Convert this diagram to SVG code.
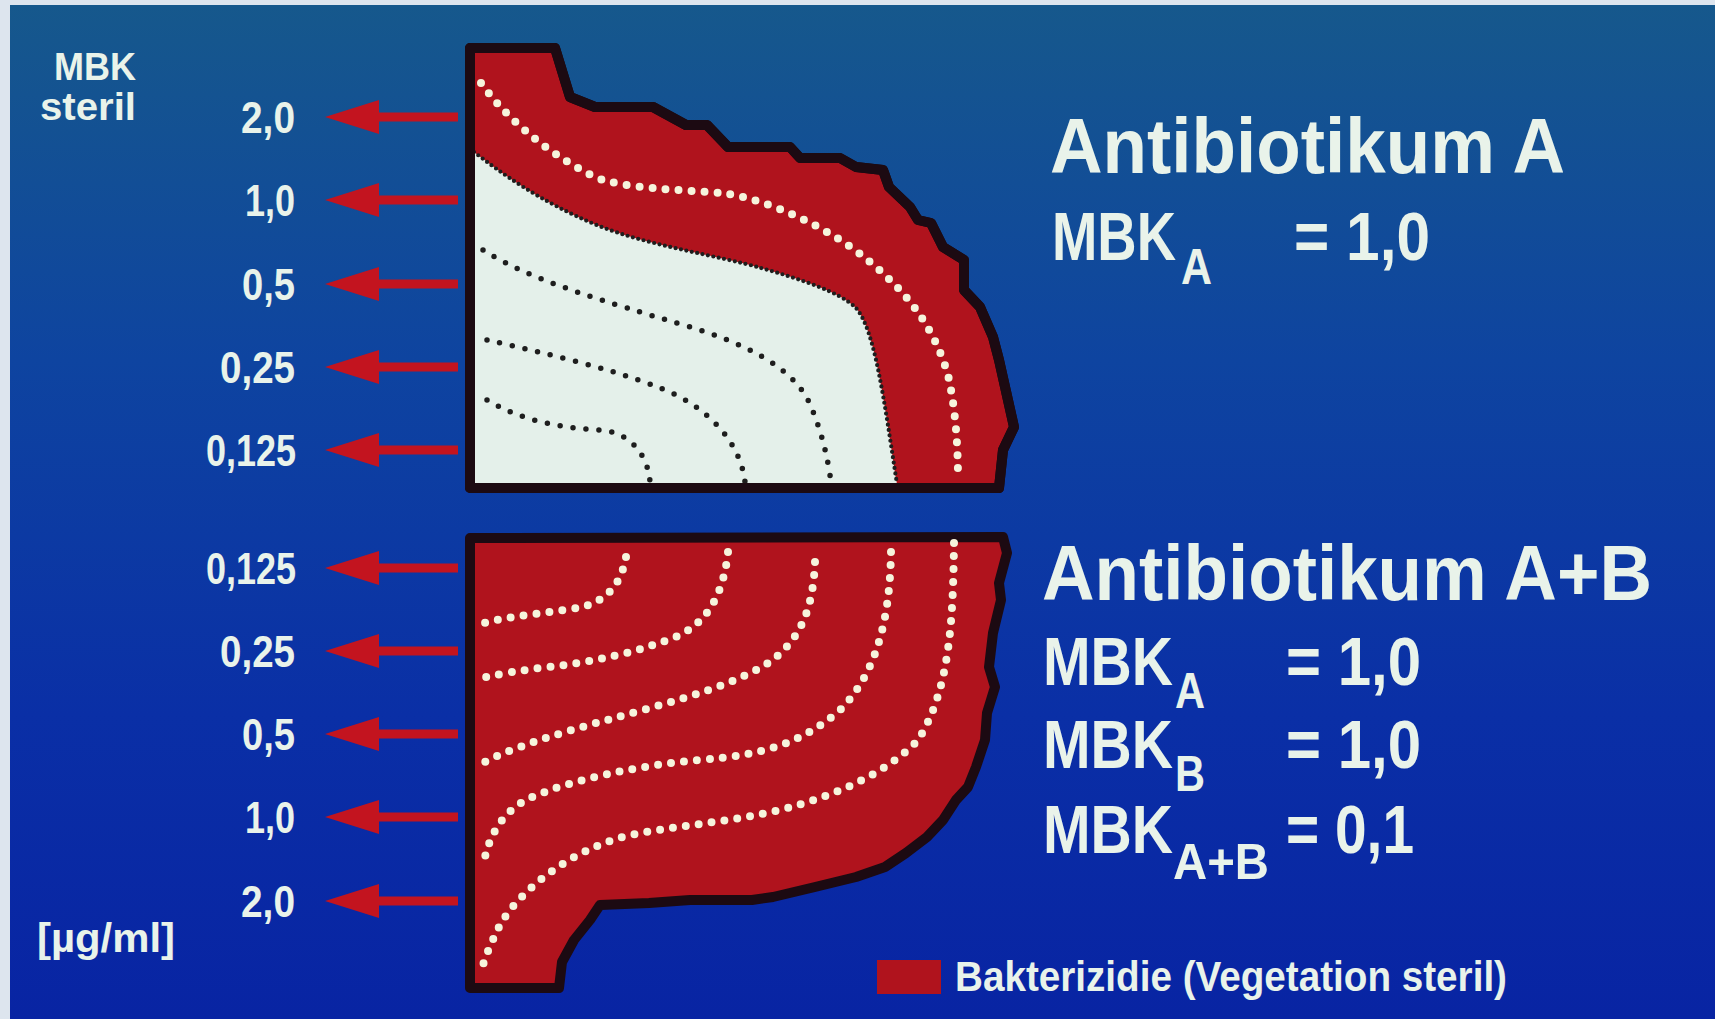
<svg xmlns="http://www.w3.org/2000/svg" xmlns:xlink="http://www.w3.org/1999/xlink" width="1715" height="1019" viewBox="0 0 1715 1019">
<defs>
<linearGradient id="bg" x1="0" y1="0" x2="0" y2="1">
<stop offset="0" stop-color="#16588c"/>
<stop offset="0.35" stop-color="#0e44a0"/>
<stop offset="0.7" stop-color="#0a2fa6"/>
<stop offset="1" stop-color="#0824a3"/>
</linearGradient>
<path id="arrow" d="M325,0 L379,-17 L379,-4.5 L458,-4.5 L458,4.5 L379,4.5 L379,17 Z"/>
<style>
.t{font-family:"Liberation Sans Narrow","Liberation Sans",Arial,sans-serif;font-weight:bold;fill:#e9f3ea}
.lab{font-size:44px}
.big{font-size:77px}
.mbk{font-size:68px}
.sub{font-size:50px}
.shape{fill:#b0131d;stroke:#1c0a12;stroke-width:10;stroke-linejoin:round}
.wdots{fill:none;stroke:#f6f4dc;stroke-width:8;stroke-linecap:round;stroke-dasharray:0 13}
.bdots{fill:none;stroke:#1e1e1e;stroke-width:5.5;stroke-linecap:round;stroke-dasharray:0 13}
.edge{fill:none;stroke:#1e1e1e;stroke-width:4.2;stroke-linecap:round;stroke-dasharray:0 5.5}
.arr{fill:#c3141f}
</style>
</defs>
<rect x="0" y="0" width="1715" height="1019" fill="#dde5ee"/>
<rect x="10" y="5" width="1705" height="1014" fill="url(#bg)"/>

<g id="top-shape">
<path class="shape" d="M470,48 L555,48 L570,97 L595,107 L653,107 L686,125 L707,125 L728,147 L790,147 L800,158 L840,158 L856,167 L883,170 L889,187 L910,207 L918,220 L931,223 L943,247 L964,260 L964,290 L980,307 L993,337 L999,360 L1014,427 L1003,450 L999,488 L470,488 Z"/>
<path fill="#e4f0ea" d="M474,152 C500,172 540,202 599,226 C650,246 720,256 761,268 C800,279 840,292 856,308 C875,330 884,400 897,484 L474,484 Z"/>
<path class="edge" d="M474,152 C500,172 540,202 599,226 C650,246 720,256 761,268 C800,279 840,292 856,308 C875,330 884,400 897,484"/>
<path class="bdots" d="M483,250 C530,280 600,300 690,327 C740,342 790,365 808,400 C822,430 828,460 831,482"/>
<path class="bdots" d="M487,340 C540,352 610,368 660,388 C705,405 740,440 745,482"/>
<path class="bdots" d="M487,400 C520,420 560,428 600,430 C630,432 648,455 650,482"/>
<path class="wdots" d="M481,83 C500,110 540,150 595,177 C620,188 680,190 723,193 C770,200 830,228 870,262 C910,295 935,330 948,375 C956,410 958,450 958,480"/>
<path fill="none" stroke="#1c0a12" stroke-width="10" stroke-linejoin="round" d="M470,48 L555,48 L570,97 L595,107 L653,107 L686,125 L707,125 L728,147 L790,147 L800,158 L840,158 L856,167 L883,170 L889,187 L910,207 L918,220 L931,223 L943,247 L964,260 L964,290 L980,307 L993,337 L999,360 L1014,427 L1003,450 L999,488 L470,488 Z"/>
</g>

<g id="bottom-shape">
<path class="shape" d="M470,538 L1003,537 L1007,553 L999,583 L1001,600 L993,633 L989,667 L995,687 L987,713 L985,740 L976,767 L968,787 L956,800 L943,820 L927,837 L906,853 L885,867 L856,877 L815,887 L773,897 L752,900 L690,900 L649,903 L600,905 L590,920 L574,940 L562,962 L559,988 L470,988 Z"/>
<path class="wdots" d="M626,557 C622,580 610,600 582,607 C560,612 510,615 481,624"/>
<path class="wdots" d="M728,552 C724,590 710,620 680,635 C640,652 590,663 540,668 C510,672 495,675 481,678"/>
<path class="wdots" d="M815,562 C813,610 800,645 760,668 C720,690 660,705 607,720 C560,733 510,748 481,764"/>
<path class="wdots" d="M891,552 C890,610 880,670 840,710 C800,745 760,755 700,760 C640,765 570,780 530,798 C500,812 488,840 484,862"/>
<path class="wdots" d="M954,543 C953,620 950,690 918,740 C890,770 840,795 780,810 C730,822 680,825 630,835 C570,850 520,890 500,925 C490,945 484,960 481,972"/>
</g>

<g id="connectors" class="arr">
<use xlink:href="#arrow" y="117"/>
<use xlink:href="#arrow" y="200"/>
<use xlink:href="#arrow" y="284"/>
<use xlink:href="#arrow" y="367"/>
<use xlink:href="#arrow" y="450"/>
<use xlink:href="#arrow" y="568"/>
<use xlink:href="#arrow" y="651"/>
<use xlink:href="#arrow" y="734"/>
<use xlink:href="#arrow" y="817"/>
<use xlink:href="#arrow" y="901"/>
</g>

<g id="axis-labels" class="t">
<text x="54" y="80" font-size="38" textLength="82" lengthAdjust="spacingAndGlyphs">MBK</text>
<text x="40" y="120" font-size="39" textLength="96" lengthAdjust="spacingAndGlyphs">steril</text>
<text class="lab" x="241" y="133" textLength="54" lengthAdjust="spacingAndGlyphs">2,0</text>
<text class="lab" x="245" y="216" textLength="50" lengthAdjust="spacingAndGlyphs">1,0</text>
<text class="lab" x="242" y="300" textLength="53" lengthAdjust="spacingAndGlyphs">0,5</text>
<text class="lab" x="220" y="383" textLength="75" lengthAdjust="spacingAndGlyphs">0,25</text>
<text class="lab" x="206" y="466" textLength="90" lengthAdjust="spacingAndGlyphs">0,125</text>
<text class="lab" x="206" y="584" textLength="90" lengthAdjust="spacingAndGlyphs">0,125</text>
<text class="lab" x="220" y="667" textLength="75" lengthAdjust="spacingAndGlyphs">0,25</text>
<text class="lab" x="242" y="750" textLength="53" lengthAdjust="spacingAndGlyphs">0,5</text>
<text class="lab" x="245" y="833" textLength="50" lengthAdjust="spacingAndGlyphs">1,0</text>
<text class="lab" x="241" y="917" textLength="54" lengthAdjust="spacingAndGlyphs">2,0</text>
<text x="37" y="952" font-size="41" textLength="138" lengthAdjust="spacingAndGlyphs">[µg/ml]</text>
</g>

<g id="title-a" class="t">
<text class="big" x="1050" y="173" textLength="515" lengthAdjust="spacingAndGlyphs">Antibiotikum A</text>
<text class="mbk" x="1052" y="260"><tspan textLength="124" lengthAdjust="spacingAndGlyphs">MBK</tspan><tspan class="sub" x="1181" y="284" textLength="31" lengthAdjust="spacingAndGlyphs">A</tspan><tspan x="1294" y="260" textLength="136" lengthAdjust="spacingAndGlyphs">= 1,0</tspan></text>
</g>

<g id="title-ab" class="t">
<text class="big" x="1042" y="600" textLength="610" lengthAdjust="spacingAndGlyphs">Antibiotikum A+B</text>
<text class="mbk" x="1043" y="685"><tspan textLength="130" lengthAdjust="spacingAndGlyphs">MBK</tspan><tspan class="sub" x="1175" y="708" textLength="30" lengthAdjust="spacingAndGlyphs">A</tspan><tspan x="1286" y="685" textLength="135" lengthAdjust="spacingAndGlyphs">= 1,0</tspan></text>
<text class="mbk" x="1043" y="768"><tspan textLength="130" lengthAdjust="spacingAndGlyphs">MBK</tspan><tspan class="sub" x="1175" y="791" textLength="30" lengthAdjust="spacingAndGlyphs">B</tspan><tspan x="1286" y="768" textLength="135" lengthAdjust="spacingAndGlyphs">= 1,0</tspan></text>
<text class="mbk" x="1043" y="853"><tspan textLength="130" lengthAdjust="spacingAndGlyphs">MBK</tspan><tspan class="sub" x="1173" y="879" textLength="96" lengthAdjust="spacingAndGlyphs">A+B</tspan><tspan x="1286" y="853" textLength="128" lengthAdjust="spacingAndGlyphs">= 0,1</tspan></text>
</g>

<g id="legend">
<rect x="877" y="960" width="64" height="34" fill="#b0131d"/>
<text class="t" x="955" y="991" font-size="42" textLength="552" lengthAdjust="spacingAndGlyphs">Bakterizidie (Vegetation steril)</text>
</g>
</svg>
